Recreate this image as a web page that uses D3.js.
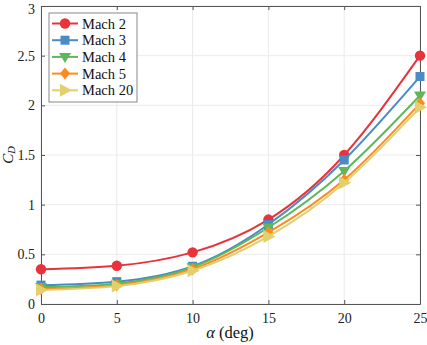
<!DOCTYPE html>
<html><head><meta charset="utf-8">
<script src="https://cdn.jsdelivr.net/npm/d3@7"></script>
<style>body{margin:0;background:#fff}svg{display:block}text{font-family:"Liberation Serif","DejaVu Serif",serif}</style>
</head><body><svg id="c" width="427" height="345"></svg>
<script>
const alpha = [0, 5, 10, 15, 20, 25];
const seriesNames = ["Mach 2", "Mach 3", "Mach 4", "Mach 5", "Mach 20"];
const mach2 = [0.35, 0.385, 0.52, 0.85, 1.50, 2.50];
const mach3 = [0.19, 0.225, 0.38, 0.80, 1.45, 2.29];
const mach4 = [0.17, 0.205, 0.37, 0.77, 1.34, 2.10];
const mach5 = [0.15, 0.19, 0.35, 0.72, 1.25, 2.02];
const mach20 = [0.14, 0.18, 0.335, 0.68, 1.22, 1.98];
const xTicks = [0, 5, 10, 15, 20, 25];
const yTicks = [0, 0.5, 1, 1.5, 2, 2.5, 3];
const colors = ["#e8333a", "#4a8bc6", "#5db85a", "#ff8a1c", "#e3cf6e"];
const shapes = ["circle", "square", "tdown", "diamond", "tright"];
const allSeries = [mach2, mach3, mach4, mach5, mach20];

const svg = d3.select("#c");
const L = 41, R = 420, T = 6, B = 304;
const x = d3.scaleLinear().domain([0, 25]).range([L, R]);
const y = d3.scaleLinear().domain([0, 3]).range([B, T]);

// grid
const g = svg.append("g");
g.selectAll(".gx").data(xTicks).join("line").attr("x1", d => x(d)).attr("x2", d => x(d)).attr("y1", T).attr("y2", B).attr("stroke", "#ebebeb").attr("stroke-width", 1);
g.selectAll(".gy").data(yTicks).join("line").attr("y1", d => y(d)).attr("y2", d => y(d)).attr("x1", L).attr("x2", R).attr("stroke", "#ebebeb").attr("stroke-width", 1);

// axes
const ax = svg.append("g").attr("transform", `translate(0,${B})`).call(d3.axisBottom(x).tickValues(xTicks).tickSizeInner(-4).tickSizeOuter(0).tickPadding(9).tickFormat(d3.format("d")));
const ay = svg.append("g").attr("transform", `translate(${L},0)`).call(d3.axisLeft(y).tickValues(yTicks).tickSizeInner(-4).tickSizeOuter(0).tickPadding(6).tickFormat(d => String(d)));
const axT = svg.append("g").attr("transform", `translate(0,${T})`).call(d3.axisTop(x).tickValues(xTicks).tickSizeInner(-4).tickSizeOuter(0).tickFormat(""));
const ayR = svg.append("g").attr("transform", `translate(${R},0)`).call(d3.axisRight(y).tickValues(yTicks).tickSizeInner(-4).tickSizeOuter(0).tickFormat(""));
[ax, ay, axT, ayR].forEach(a => {
  a.select(".domain").attr("stroke", "#555").attr("stroke-width", 1);
  a.selectAll(".tick line").attr("stroke", "#555");
  a.selectAll("text").attr("fill", "#222").style("font-size", "14px").style("font-family", "'Liberation Serif','DejaVu Serif',serif");
});
// keep top "3" label inside the picture
ay.selectAll(".tick text").filter(d => d === 3).attr("dy", "0.5em");

// lines
const line = d3.line().x((d, i) => x(alpha[i])).y(d => y(d)).curve(d3.curveNatural);
function marker(sel, shape, cx, cy, col) {
  const s = 5.2;
  if (shape === "circle") sel.append("circle").attr("cx", cx).attr("cy", cy).attr("r", s).attr("fill", col);
  else if (shape === "square") sel.append("rect").attr("x", cx - 4.5).attr("y", cy - 4.5).attr("width", 9).attr("height", 9).attr("fill", col);
  else if (shape === "tdown") sel.append("path").attr("d", `M${cx - 6},${cy - 4}L${cx + 6},${cy - 4}L${cx},${cy + 6}Z`).attr("fill", col);
  else if (shape === "diamond") sel.append("path").attr("d", `M${cx},${cy - 6}L${cx + 5},${cy}L${cx},${cy + 6}L${cx - 5},${cy}Z`).attr("fill", col);
  else if (shape === "tright") sel.append("path").attr("d", `M${cx - 5},${cy - 6.5}L${cx + 7},${cy}L${cx - 5},${cy + 6.5}Z`).attr("fill", col);
}
allSeries.forEach((vals, k) => {
  const sg = svg.append("g");
  sg.append("path").datum(vals).attr("d", line).attr("fill", "none").attr("stroke", colors[k]).attr("stroke-width", 2);
  vals.forEach((v, i) => marker(sg, shapes[k], x(alpha[i]), y(v), colors[k]));
});

// legend
const lg = svg.append("g");
lg.append("rect").attr("x", 49).attr("y", 13).attr("width", 88).attr("height", 89).attr("fill", "#fff").attr("stroke", "#888").attr("stroke-width", 1);
seriesNames.forEach((n, k) => {
  const yy = 23.5 + k * 16.7;
  lg.append("line").attr("x1", 52).attr("x2", 78).attr("y1", yy).attr("y2", yy).attr("stroke", colors[k]).attr("stroke-width", 2);
  marker(lg, shapes[k], 65, yy, colors[k]);
  lg.append("text").attr("x", 82).attr("y", yy + 5).attr("fill", "#111").style("font-size", "14.5px").text(n);
});

// axis labels
svg.append("text").attr("x", 230).attr("y", 338).attr("text-anchor", "middle").attr("fill", "#111").style("font-size", "16.5px")
  .html('<tspan font-style="italic">α</tspan> (deg)');
const yl = svg.append("text").attr("transform", "translate(12.5,155) rotate(-90)").attr("text-anchor", "middle").attr("fill", "#111").style("font-size", "15px");
yl.append("tspan").attr("font-style", "italic").text("C");
yl.append("tspan").attr("font-style", "italic").attr("dy", 2).style("font-size", "10.5px").text("D");
</script></body></html>
